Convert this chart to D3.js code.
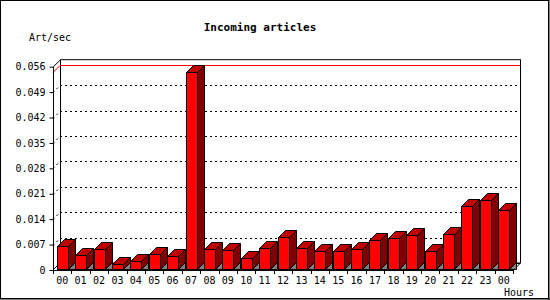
<!DOCTYPE html>
<html>
<head>
<meta charset="utf-8">
<script src="https://cdn.jsdelivr.net/npm/d3@7"></script>
<style>
  body { margin: 0; background: #fff; }
  text { font-family: "DejaVu Sans Mono", "Liberation Mono", monospace; }
</style>
</head>
<body>
<script>
// hourly incoming articles (art/sec)
const hours = ["00","01","02","03","04","05","06","07","08","09","10","11",
               "12","13","14","15","16","17","18","19","20","21","22","23","00 "];
const rates = [0.0065,0.0041,0.0058,0.0017,0.0024,0.0044,0.0038,0.0545,0.0058,0.0055,0.0033,0.0061,
               0.0091,0.0060,0.0052,0.0052,0.0058,0.0083,0.0087,0.0096,0.0052,0.0099,0.0176,0.0193,0.0165];
const yTicks = [0,0.007,0.014,0.021,0.028,0.035,0.042,0.049,0.056];

function main(){
    const width = 550;
    const height = 300;
    const depth = 7;

    const svg = d3.select("body").append("svg")
        .attr("width", width)
        .attr("height", height)

    //outer frame
    svg.append("rect")
        .attr("x", 0.5).attr("y", 0.5)
        .attr("width", width - 2).attr("height", height - 2)
        .attr("fill", "white")
        .attr("stroke", "black")
        .attr("stroke-width", 1)
    svg.append("line").attr("x1", 549).attr("x2", 549).attr("y1", 0).attr("y2", 300).attr("stroke", "black")
    svg.append("line").attr("x1", 0).attr("x2", 550).attr("y1", 299).attr("y2", 299).attr("stroke", "black")

    const xScale = d3.scaleBand().domain(hours).range([53, 513]).padding(0);
    const yScale = d3.scaleLinear().domain([0, 0.056]).range([270, 66.7]);

    const y0 = yScale(0);
    const yTop = yScale(0.056);
    const xL = xScale.range()[0];
    const xR = xScale.range()[1];

    //back wall
    svg.append("rect")
        .attr("x", xL + depth + 0.5)
        .attr("y", yTop - depth)
        .attr("width", xR - xL)
        .attr("height", y0 - yTop)
        .attr("fill", "white")
        .attr("stroke", "black")

    //dotted grid on the back wall, with the slanted part toward the axis
    const grid = svg.append("g")
        .attr("stroke", "black")
        .attr("stroke-dasharray", "2,3")
    yTicks.filter(t => t > 0 && t < 0.056).forEach(t => {
        const yy = Math.round(yScale(t)) + 0.5;
        grid.append("line")
            .attr("x1", xL + depth).attr("x2", xR + depth)
            .attr("y1", yy - depth).attr("y2", yy - depth)
        grid.append("line")
            .attr("x1", xL).attr("x2", xL + depth)
            .attr("y1", yy).attr("y2", yy - depth)
    })

    //max line in red
    const maxV = d3.max(rates);
    const yMax = Math.round(yScale(maxV)) + 0.5;
    svg.append("polyline")
        .attr("points", [[xL, yMax], [xL + depth, yMax - depth], [xR + depth, yMax - depth]].join(" "))
        .attr("fill", "none")
        .attr("stroke", "red")

    //floor edges
    svg.append("polyline")
        .attr("points", [[xL, y0], [xL + depth, y0 - depth]].join(" "))
        .attr("fill", "none").attr("stroke", "black")
    svg.append("polyline")
        .attr("points", [[xR, y0 + 0.5], [xR + depth, y0 - depth + 0.5]].join(" "))
        .attr("fill", "none").attr("stroke", "black")
    svg.append("line")
        .attr("x1", xL + depth).attr("x2", xR + depth)
        .attr("y1", y0 - depth + 0.5).attr("y2", y0 - depth + 0.5)
        .attr("stroke", "black")

    //bars drawn as 3d boxes
    const barW = 11;
    const bars = svg.append("g")
        .attr("stroke", "black")
        .attr("stroke-width", 1)
        .attr("stroke-linejoin", "miter")
        .selectAll("g")
        .data(rates)
        .enter().append("g")

    bars.each(function(d, i){
        const g = d3.select(this);
        const cx = xScale(hours[i]) + xScale.bandwidth() / 2;
        const x0 = Math.round(cx - barW / 2) + 0.5;
        const x1 = x0 + barW;
        const yt = Math.round(yScale(d)) + 0.5;
        const yb = y0 - 0.5;
        //shadow on the floor
        g.append("polygon")
            .attr("points", [[x1, yb], [x1 + depth, yb - depth], [x1 + depth, yb]].join(" "))
            .attr("fill", "#808080")
        //side
        g.append("polygon")
            .attr("points", [[x1, yb], [x1, yt], [x1 + depth, yt - depth], [x1 + depth, yb - depth]].join(" "))
            .attr("fill", "#800000")
        //top
        g.append("polygon")
            .attr("points", [[x0, yt], [x0 + depth, yt - depth], [x1 + depth, yt - depth], [x1, yt]].join(" "))
            .attr("fill", "#c00000")
        //front
        g.append("rect")
            .attr("x", x0).attr("y", yt)
            .attr("width", barW).attr("height", yb - yt)
            .attr("fill", "#ff0000")
    })

    //y axis
    svg.append("g")
        .attr("transform", "translate(" + (xL + 0.5) + ",0)")
        .call(d3.axisLeft(yScale).tickValues(yTicks).tickSize(4).tickPadding(4)
            .tickFormat(d => d === 0 ? "0" : d.toFixed(3)))
        .call(g => g.select(".domain").attr("d", "M0," + (y0 + 0.5) + "V" + yTop + "L" + depth + "," + (yTop - depth)))
        .call(g => g.selectAll("text").attr("font-size", "10px").attr("font-family", "DejaVu Sans Mono").attr("fill", "black"))

    //x axis
    svg.append("g")
        .attr("transform", "translate(0," + (y0 + 0.5) + ")")
        .call(d3.axisBottom(xScale).tickSize(0).tickPadding(6)
            .tickFormat(d => d.trim()))
        .call(g => g.select(".domain").attr("d", "M" + xL + ",0H" + xR))
        .call(g => g.selectAll("text").attr("font-size", "10px").attr("font-family", "DejaVu Sans Mono").attr("fill", "black"))

    //x ticks on the slot boundaries
    svg.append("g")
        .selectAll("line")
        .data(hours)
        .enter().append("line")
        .attr("x1", d => Math.round(xScale(d)) + 0.5)
        .attr("x2", d => Math.round(xScale(d)) + 0.5)
        .attr("y1", y0)
        .attr("y2", y0 + 4)
        .attr("stroke", "black")
    svg.append("line")
        .attr("x1", xR + 0.5).attr("x2", xR + 0.5)
        .attr("y1", y0).attr("y2", y0 + 4)
        .attr("stroke", "black")

    //titles
    svg.append("text")
        .attr("x", 260)
        .attr("y", 31)
        .attr("text-anchor", "middle")
        .attr("font-size", "11px")
        .attr("font-weight", "bold")
        .text("Incoming articles")

    svg.append("text")
        .attr("x", 29)
        .attr("y", 41)
        .attr("font-size", "10px")
        .text("Art/sec")

    svg.append("text")
        .attr("x", 504)
        .attr("y", 296)
        .attr("font-size", "10px")
        .text("Hours")
}
main();
</script>
</body>
</html>
